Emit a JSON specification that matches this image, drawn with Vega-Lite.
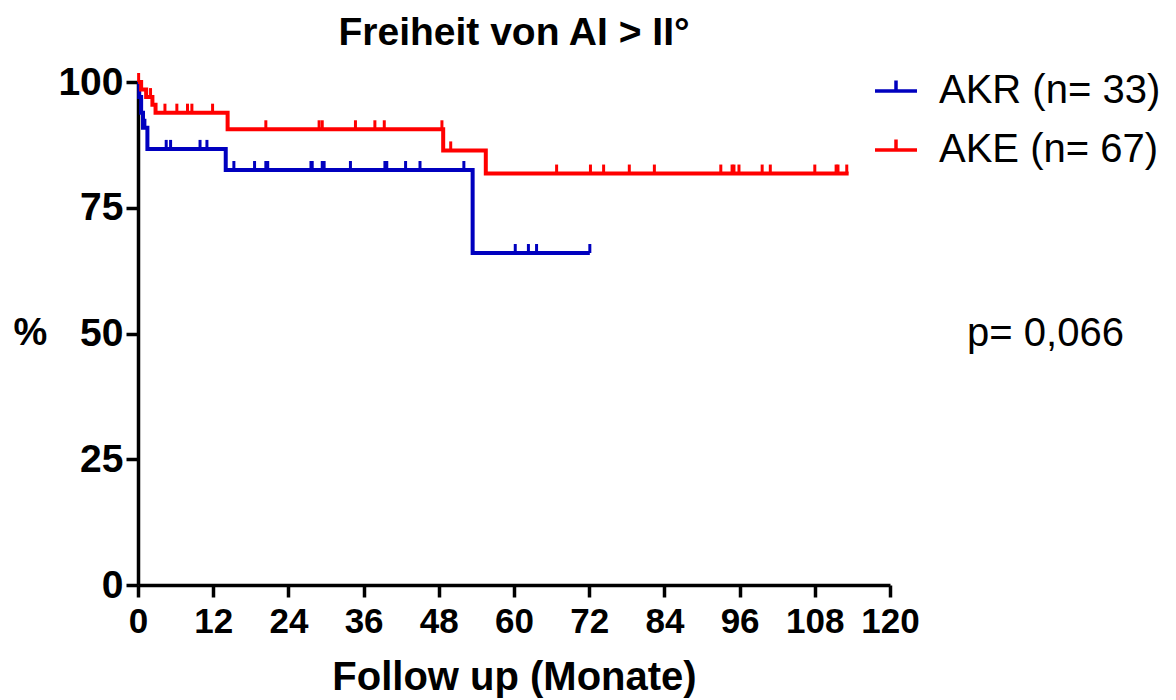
{
  "$schema": "https://vega.github.io/schema/vega-lite/v6.json",
  "width": 752,
  "height": 503,
  "autosize": {"type": "none"},
  "padding": {"left": 138, "top": 82, "right": 286, "bottom": 115},
  "background": "white",
  "title": {
    "text": "Freiheit von AI > II°",
    "font": "Liberation Sans",
    "fontSize": 39,
    "fontWeight": "bold",
    "color": "black",
    "anchor": "middle",
    "frame": "group",
    "offset": 10
  },
  "config": {
    "view": {"stroke": null},
    "font": "Liberation Sans"
  },
  "datasets": {
    "steps": [
      {"group": "AKR (n= 33)", "month": 0, "surv": 100},
      {"group": "AKR (n= 33)", "month": 0.2, "surv": 97.0},
      {"group": "AKR (n= 33)", "month": 0.5, "surv": 93.9},
      {"group": "AKR (n= 33)", "month": 0.8, "surv": 90.9},
      {"group": "AKR (n= 33)", "month": 1.5, "surv": 86.7},
      {"group": "AKR (n= 33)", "month": 14.0, "surv": 82.5},
      {"group": "AKR (n= 33)", "month": 53.4, "surv": 66.0},
      {"group": "AKR (n= 33)", "month": 72.1, "surv": 66.0},
      {"group": "AKE (n= 67)", "month": 0, "surv": 100},
      {"group": "AKE (n= 67)", "month": 0.5, "surv": 98.5},
      {"group": "AKE (n= 67)", "month": 1.3, "surv": 97.0},
      {"group": "AKE (n= 67)", "month": 2.3, "surv": 95.5},
      {"group": "AKE (n= 67)", "month": 2.8, "surv": 93.9},
      {"group": "AKE (n= 67)", "month": 14.3, "surv": 90.6},
      {"group": "AKE (n= 67)", "month": 48.7, "surv": 86.4},
      {"group": "AKE (n= 67)", "month": 55.5, "surv": 81.8},
      {"group": "AKE (n= 67)", "month": 113.4, "surv": 81.8}
    ],
    "censored": [
      {"group": "AKR (n= 33)", "month": 1.1, "surv": 90.9},
      {"group": "AKR (n= 33)", "month": 4.5, "surv": 86.7},
      {"group": "AKR (n= 33)", "month": 5.2, "surv": 86.7},
      {"group": "AKR (n= 33)", "month": 9.9, "surv": 86.7},
      {"group": "AKR (n= 33)", "month": 11.0, "surv": 86.7},
      {"group": "AKR (n= 33)", "month": 15.3, "surv": 82.5},
      {"group": "AKR (n= 33)", "month": 18.6, "surv": 82.5},
      {"group": "AKR (n= 33)", "month": 20.4, "surv": 82.5},
      {"group": "AKR (n= 33)", "month": 20.7, "surv": 82.5},
      {"group": "AKR (n= 33)", "month": 27.6, "surv": 82.5},
      {"group": "AKR (n= 33)", "month": 27.8, "surv": 82.5},
      {"group": "AKR (n= 33)", "month": 29.4, "surv": 82.5},
      {"group": "AKR (n= 33)", "month": 29.7, "surv": 82.5},
      {"group": "AKR (n= 33)", "month": 33.9, "surv": 82.5},
      {"group": "AKR (n= 33)", "month": 39.4, "surv": 82.5},
      {"group": "AKR (n= 33)", "month": 39.7, "surv": 82.5},
      {"group": "AKR (n= 33)", "month": 42.7, "surv": 82.5},
      {"group": "AKR (n= 33)", "month": 45.0, "surv": 82.5},
      {"group": "AKR (n= 33)", "month": 52.0, "surv": 82.5},
      {"group": "AKR (n= 33)", "month": 60.2, "surv": 66.0},
      {"group": "AKR (n= 33)", "month": 62.3, "surv": 66.0},
      {"group": "AKR (n= 33)", "month": 63.6, "surv": 66.0},
      {"group": "AKR (n= 33)", "month": 72.1, "surv": 66.0},
      {"group": "AKE (n= 67)", "month": 0.1, "surv": 100},
      {"group": "AKE (n= 67)", "month": 2.0, "surv": 97.0},
      {"group": "AKE (n= 67)", "month": 4.3, "surv": 93.9},
      {"group": "AKE (n= 67)", "month": 6.2, "surv": 93.9},
      {"group": "AKE (n= 67)", "month": 7.9, "surv": 93.9},
      {"group": "AKE (n= 67)", "month": 8.6, "surv": 93.9},
      {"group": "AKE (n= 67)", "month": 11.9, "surv": 93.9},
      {"group": "AKE (n= 67)", "month": 20.4, "surv": 90.6},
      {"group": "AKE (n= 67)", "month": 28.9, "surv": 90.6},
      {"group": "AKE (n= 67)", "month": 29.4, "surv": 90.6},
      {"group": "AKE (n= 67)", "month": 34.7, "surv": 90.6},
      {"group": "AKE (n= 67)", "month": 37.8, "surv": 90.6},
      {"group": "AKE (n= 67)", "month": 39.3, "surv": 90.6},
      {"group": "AKE (n= 67)", "month": 48.5, "surv": 90.6},
      {"group": "AKE (n= 67)", "month": 49.9, "surv": 86.4},
      {"group": "AKE (n= 67)", "month": 66.8, "surv": 81.8},
      {"group": "AKE (n= 67)", "month": 72.2, "surv": 81.8},
      {"group": "AKE (n= 67)", "month": 74.3, "surv": 81.8},
      {"group": "AKE (n= 67)", "month": 78.4, "surv": 81.8},
      {"group": "AKE (n= 67)", "month": 82.4, "surv": 81.8},
      {"group": "AKE (n= 67)", "month": 93.0, "surv": 81.8},
      {"group": "AKE (n= 67)", "month": 94.8, "surv": 81.8},
      {"group": "AKE (n= 67)", "month": 95.1, "surv": 81.8},
      {"group": "AKE (n= 67)", "month": 95.9, "surv": 81.8},
      {"group": "AKE (n= 67)", "month": 99.6, "surv": 81.8},
      {"group": "AKE (n= 67)", "month": 100.9, "surv": 81.8},
      {"group": "AKE (n= 67)", "month": 108.0, "surv": 81.8},
      {"group": "AKE (n= 67)", "month": 111.4, "surv": 81.8},
      {"group": "AKE (n= 67)", "month": 111.7, "surv": 81.8},
      {"group": "AKE (n= 67)", "month": 113.1, "surv": 81.8}
    ],
    "notes": [
      {"label": "p= 0,066", "month": 132.3, "surv": 50}
    ]
  },
  "layer": [
    {
      "data": {"name": "steps"},
      "mark": {"type": "line", "interpolate": "step-after", "strokeWidth": 4, "clip": false},
      "encoding": {
        "x": {
          "field": "month",
          "type": "quantitative",
          "scale": {"domain": [0, 120], "nice": false, "zero": false},
          "axis": {
            "values": [0, 12, 24, 36, 48, 60, 72, 84, 96, 108, 120],
            "title": "Follow up (Monate)",
            "titleFont": "Liberation Sans",
            "titleFontSize": 40,
            "titleFontWeight": "bold",
            "titleColor": "black",
            "titleY": 104,
            "titleBaseline": "alphabetic",
            "labelFont": "Liberation Sans",
            "labelFontSize": 35,
            "labelFontWeight": "bold",
            "labelColor": "black",
            "labelPadding": 7,
            "labelFlush": false,
            "labelOverlap": false,
            "tickSize": 12,
            "tickWidth": 3.5,
            "tickColor": "black",
            "domainWidth": 3.5,
            "domainColor": "black",
            "grid": false
          }
        },
        "y": {
          "field": "surv",
          "type": "quantitative",
          "scale": {"domain": [0, 100], "nice": false},
          "axis": {
            "values": [0, 25, 50, 75, 100],
            "title": "%",
            "titleFont": "Liberation Sans",
            "titleFontSize": 38,
            "titleFontWeight": "bold",
            "titleColor": "black",
            "titleAngle": 0,
            "titleX": -108,
            "titleY": 251,
            "titleAlign": "center",
            "titleBaseline": "middle",
            "labelFont": "Liberation Sans",
            "labelFontSize": 39,
            "labelFontWeight": "bold",
            "labelColor": "black",
            "labelPadding": 3,
            "labelFlush": false,
            "labelOverlap": false,
            "tickSize": 12,
            "tickWidth": 3.5,
            "tickColor": "black",
            "domainWidth": 3.5,
            "domainColor": "black",
            "grid": false
          }
        },
        "color": {
          "field": "group",
          "type": "nominal",
          "scale": {"domain": ["AKR (n= 33)", "AKE (n= 67)"], "range": ["#0000BF", "#FF0000"]},
          "legend": {
            "title": null,
            "orient": "none",
            "legendX": 735,
            "legendY": -14,
            "padding": 0,
            "symbolType": "M-1,0H1M0,0V-0.5",
            "symbolSize": 1764,
            "symbolStrokeWidth": 3.5,
            "symbolFillColor": "transparent",
            "labelFont": "Liberation Sans",
            "labelFontSize": 40,
            "labelColor": "black",
            "labelOffset": 20,
            "labelLimit": 400,
            "rowPadding": 16
          }
        }
      }
    },
    {
      "data": {"name": "censored"},
      "mark": {"type": "point", "shape": "M0,0V-1", "filled": false, "size": 324, "strokeWidth": 3, "opacity": 1, "clip": false},
      "encoding": {
        "x": {"field": "month", "type": "quantitative"},
        "y": {"field": "surv", "type": "quantitative"},
        "color": {
          "field": "group",
          "type": "nominal",
          "legend": {
            "title": null,
            "orient": "none",
            "legendX": 735,
            "legendY": -14,
            "padding": 0,
            "symbolType": "M-1,0H1M0,0V-0.5",
            "symbolSize": 1764,
            "symbolStrokeWidth": 3.5,
            "symbolFillColor": "transparent",
            "labelFont": "Liberation Sans",
            "labelFontSize": 40,
            "labelColor": "black",
            "labelOffset": 20,
            "labelLimit": 400,
            "rowPadding": 16
          }
        }
      }
    },
    {
      "data": {"name": "notes"},
      "mark": {"type": "text", "align": "left", "baseline": "middle", "font": "Liberation Sans", "fontSize": 40, "color": "black", "clip": false},
      "encoding": {
        "x": {"field": "month", "type": "quantitative"},
        "y": {"field": "surv", "type": "quantitative"},
        "text": {"field": "label"}
      }
    }
  ]
}
